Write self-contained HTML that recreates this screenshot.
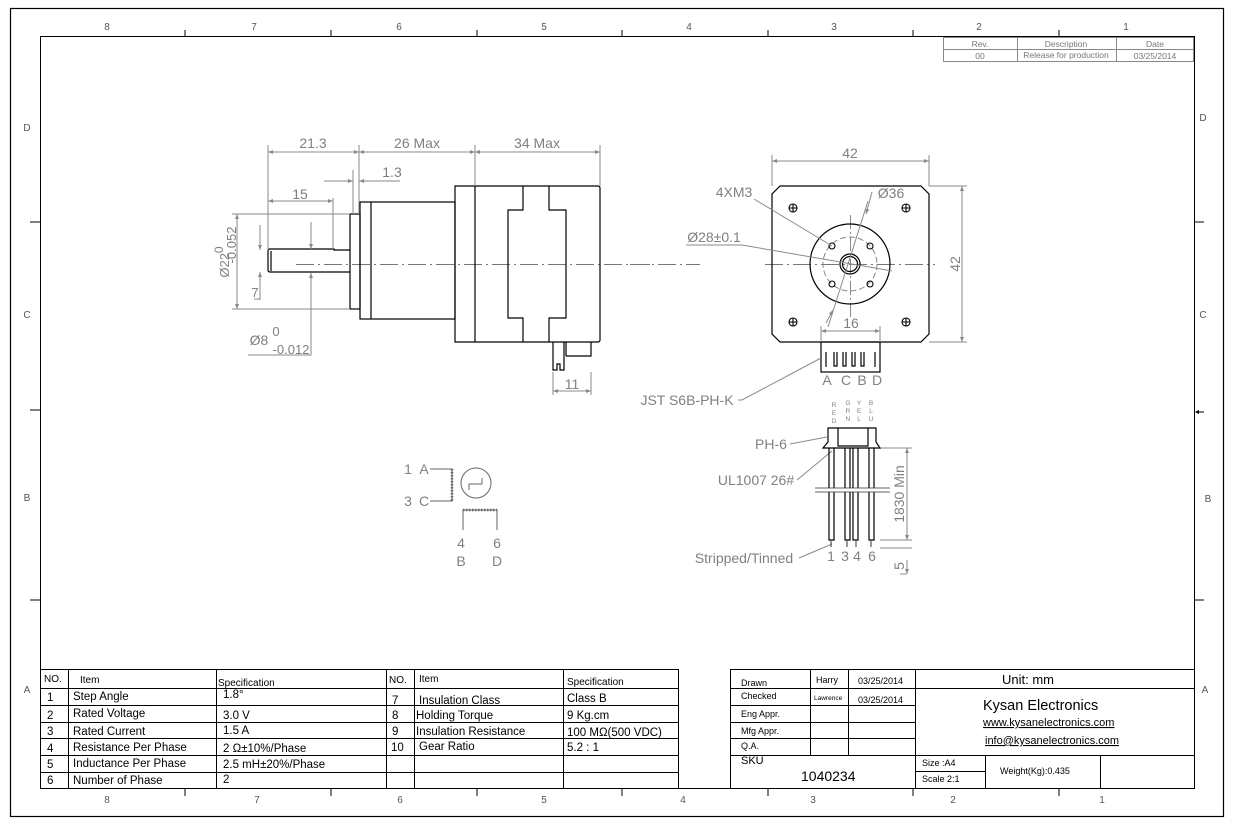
<!DOCTYPE html>
<html><head><meta charset="utf-8"><style>
html,body{margin:0;padding:0;background:#fff;}
svg{display:block;font-family:"Liberation Sans",Arial,sans-serif;}
.g{fill:#808080;}
.dl{stroke:#8a8a8a;stroke-width:1;fill:none;}
.k{stroke:#000;stroke-width:1.2;fill:none;}
.t{stroke:#000;stroke-width:1;fill:none;}
</style></head><body>
<svg width="1234" height="825" viewBox="0 0 1234 825" xmlns="http://www.w3.org/2000/svg">
<defs>
<marker id="a" viewBox="0 0 10 10" refX="10" refY="5" markerWidth="9" markerHeight="5" orient="auto-start-reverse" markerUnits="userSpaceOnUse"><path d="M0,1 L10,5 L0,9z" fill="#8a8a8a"/></marker>
</defs>
<rect x="10.5" y="8.5" width="1213" height="808" fill="none" stroke="#000" stroke-width="1.2"/>
<rect x="40.5" y="36.5" width="1154" height="752" fill="none" stroke="#000" stroke-width="1"/>
<g class="t">
<path d="M185 30v6M331 30v6M477 30v6M622 30v6M768 30v6M913 30v6M1059 30v6"/>
<path d="M185 789v7M331 789v7M477 789v7M622 789v7M768 789v7M913 789v7M1059 789v7"/>
<path d="M30 222h10M30 410h10M30 600h10M1194 222h10M1194 600h10"/>
</g>
<path d="M1198 412h6" stroke="#000"/><path d="M1195 412l4-2v4z" fill="#000"/>
<g font-size="10" fill="#555" text-anchor="middle">
<text x="107" y="30">8</text><text x="254" y="30">7</text><text x="399" y="30">6</text><text x="544" y="30">5</text><text x="689" y="30">4</text><text x="834" y="30">3</text><text x="979" y="30">2</text><text x="1126" y="30">1</text>
<text x="107" y="803">8</text><text x="257" y="803">7</text><text x="400" y="803">6</text><text x="544" y="803">5</text><text x="683" y="803">4</text><text x="813" y="803">3</text><text x="953" y="803">2</text><text x="1102" y="803">1</text>
<text x="27" y="131">D</text><text x="27" y="318">C</text><text x="27" y="501">B</text><text x="27" y="693">A</text>
<text x="1203" y="121">D</text><text x="1203" y="318">C</text><text x="1208" y="502">B</text><text x="1205" y="693">A</text>
</g>
<g stroke="#888" fill="none"><rect x="943.5" y="37.5" width="250" height="24"/><path d="M943 49.5h251M1017.5 37v25M1116.5 37v25"/></g>
<g font-size="8.5" fill="#777" text-anchor="middle"><text x="980" y="47">Rev.</text><text x="1066" y="47">Description</text><text x="1155" y="47">Date</text><text x="980" y="59">00</text><text x="1066" y="58">Release for production</text><text x="1155" y="59">03/25/2014</text></g>

<path d="M296 264.5H650" stroke="#777" stroke-dasharray="18 4 2 4"/>
<g class="k">
<path d="M455 186H598a2 2 0 0 1 2 2V340a2 2 0 0 1-2 2H455z"/>
<path d="M475 186V342"/>
<path d="M523 186v24h-15v108h15v24M549 186v24h17v108h-17v24"/>
<rect x="360" y="202" width="95" height="117"/><path d="M371 202v117"/>
<rect x="350" y="214" width="10" height="95"/>
<path d="M350 250H334v-1H270q-2 0-2 2V270q0 2 2 2H350"/><path d="M271 251v20"/>
<path d="M553 342v28h4v-6h3v6h4v-28M566 356h25v-14M566 342v14"/>
</g>
<g class="dl">
<path d="M268 145V250M359 145V214M475 145V186M600 145V186M353 170V214"/>
<path d="M268 152H359" marker-start="url(#a)" marker-end="url(#a)"/>
<path d="M359 152H475" marker-start="url(#a)" marker-end="url(#a)"/>
<path d="M475 152H600" marker-start="url(#a)" marker-end="url(#a)"/>
<path d="M324 181H353" marker-end="url(#a)"/><path d="M400 181H359" marker-end="url(#a)"/><path d="M359 181V210"/>
<path d="M268 201H333" marker-start="url(#a)" marker-end="url(#a)"/><path d="M333 198V249"/>
<path d="M232 214H350M232 309H350"/>
<path d="M237 214V309" marker-start="url(#a)" marker-end="url(#a)"/>
<path d="M260 225V250" marker-end="url(#a)"/><path d="M260 300V272" marker-end="url(#a)"/><path d="M254 299H260V272"/>
<path d="M311 222V249" marker-end="url(#a)"/><path d="M311 290V273" marker-end="url(#a)"/><path d="M311 273V355H248"/>
<path d="M553 372V395M591 372V395"/><path d="M553 391H591" marker-start="url(#a)" marker-end="url(#a)"/>
</g>
<g class="g" font-size="14" text-anchor="middle">
<text x="313" y="148">21.3</text><text x="417" y="148">26 Max</text><text x="537" y="148">34 Max</text>
<text x="392" y="177">1.3</text><text x="300" y="199">15</text>
<text x="255" y="297" font-size="13">7</text>
<text x="572" y="389">11</text>
<text x="259" y="345">Ø8</text><text x="276" y="336" font-size="13">0</text><text x="291" y="354" font-size="13">-0.012</text>
<text transform="translate(229 262) rotate(-90)" font-size="13">Ø22<tspan dy="-6" font-size="12">0</tspan></text>
<text transform="translate(236 245) rotate(-90)" font-size="13">-0.052</text>
</g>

<path d="M630 264.5H700M765 264.5H935" stroke="#777" stroke-dasharray="18 4 2 4"/>
<path d="M850.5 215V318" stroke="#888" stroke-dasharray="14 3 2 3"/>
<g class="k">
<path d="M780 186H921L929 194V334L921 342H780L772 334V194z"/>
<circle cx="850" cy="264" r="40"/>
<circle cx="850" cy="264" r="10"/><circle cx="850" cy="264" r="7.5"/>
<rect x="821" y="342" width="59" height="30"/>
<path d="M826 352v15M834 352v14h3v-14M843 352v14h3v-14M852 352v14h3v-14M861 352v14h3v-14M875 352v15"/>
</g>
<circle cx="850" cy="264" r="27" fill="none" stroke="#888" stroke-dasharray="6 3"/>
<g stroke="#000" fill="none" stroke-width="1.1">
<circle cx="832" cy="246" r="3"/><circle cx="870" cy="246" r="3"/><circle cx="832" cy="284" r="3"/><circle cx="870" cy="284" r="3"/>
<circle cx="793" cy="208" r="4"/><circle cx="906" cy="208" r="4"/><circle cx="793" cy="322" r="4"/><circle cx="906" cy="322" r="4"/>
<path d="M789 208h8M793 204v8M902 208h8M906 204v8M789 322h8M793 318v8M902 322h8M906 318v8"/>
</g>
<g class="dl">
<path d="M772 155V186M929 155V186M929 186H967M929 342H967"/>
<path d="M772 161H929" marker-start="url(#a)" marker-end="url(#a)"/>
<path d="M962 186V342" marker-start="url(#a)" marker-end="url(#a)"/>
<path d="M821 326V342M880 326V342"/><path d="M821 331H880" marker-start="url(#a)" marker-end="url(#a)"/>
<path d="M754 199L832 246"/><path d="M686 245H742L892 271"/>
<path d="M868 201L828 327"/><path d="M872 192L866 214" marker-end="url(#a)"/><path d="M833 310L826 323" marker-start="url(#a)"/>
<path d="M738 400H742L821 358"/>
<path d="M790 444L827 437M797 480L832 451M799 558L832 544"/>
<path d="M880 448H912M880 540H912M880 548H912"/>
<path d="M907 448V540" marker-start="url(#a)" marker-end="url(#a)"/>
<path d="M907 560V574" marker-end="url(#a)"/><path d="M907 574H900"/>
</g>
<g class="k" stroke-width="1">
<path d="M828 428H876V442L880 448H823L828 442z"/><path d="M838 428V446H868V428"/>
<path d="M829 448V488M834 448V488M845 448V488M850 448V488M853 448V488M858 448V488M869 448V488M874 448V488"/>
<path d="M829 492V540H834V492M845 492V540H850V492M853 492V540H858V492M869 492V540H874V492"/>
<path d="M815 488H890M815 492H890" stroke="#333" stroke-width="0.8"/>
<path d="M831 541v6M847 541v6M856 541v6M871 541v6" stroke="#555"/>
</g>
<g class="g" font-size="14" text-anchor="middle">
<text x="850" y="158">42</text>
<text transform="translate(960 264) rotate(-90)">42</text>
<text x="734" y="197">4XM3</text><text x="891" y="198">Ø36</text><text x="714" y="242">Ø28±0.1</text>
<text x="851" y="328">16</text>
<text x="827" y="385">A</text><text x="846" y="385">C</text><text x="862" y="385">B</text><text x="877" y="385">D</text>
<text x="687" y="405">JST S6B-PH-K</text>
<text x="771" y="449">PH-6</text><text x="756" y="485">UL1007 26#</text><text x="744" y="563">Stripped/Tinned</text>
<text x="831" y="561">1</text><text x="845" y="561">3</text><text x="857" y="561">4</text><text x="872" y="561">6</text>
<text transform="translate(904 494) rotate(-90)">1830 Min</text>
<text transform="translate(904 566) rotate(-90)">5</text>
</g>
<g class="g" font-size="6.5" text-anchor="middle">
<text x="834" y="407">R</text><text x="834" y="415">E</text><text x="834" y="423">D</text>
<text x="848" y="405">G</text><text x="848" y="413">R</text><text x="848" y="421">N</text>
<text x="859" y="405">Y</text><text x="859" y="413">E</text><text x="859" y="421">L</text>
<text x="871" y="405">B</text><text x="871" y="413">L</text><text x="871" y="421">U</text>
</g>

<g stroke="#666" fill="none">
<path d="M430 469H452v32H430"/><path d="M452 469v32" stroke-dasharray="1.5 1.5" stroke-width="2.5"/>
<circle cx="476" cy="483" r="15"/><path d="M469 490v-6h13v-6"/>
<path d="M463 530V510H497V530"/><path d="M463 510H497" stroke-dasharray="1.5 1.5" stroke-width="2.5"/>
</g>
<g class="g" font-size="14" text-anchor="middle">
<text x="408" y="474">1</text><text x="424" y="474">A</text><text x="408" y="506">3</text><text x="424" y="506">C</text>
<text x="461" y="548">4</text><text x="497" y="548">6</text><text x="461" y="566">B</text><text x="497" y="566">D</text>
</g>

<g stroke="#000" fill="none">
<rect x="40.5" y="669.5" width="638" height="119"/>
<path d="M40 688.5h638M40 705.5h638M40 722.5h638M40 738.5h638M40 755.5h638M40 772.5h638"/>
<path d="M68.5 669v120M216.5 669v120M386.5 669v120M414.5 669v120M563.5 669v120"/>
</g>
<g font-size="11.5" fill="#000">
<text x="44" y="682" font-size="10">NO.</text><text x="80" y="683" font-size="10">Item</text><text x="218" y="686" font-size="10">Specification</text>
<text x="389" y="683" font-size="10">NO.</text><text x="419" y="682" font-size="10">Item</text><text x="567" y="685" font-size="10">Specification</text>
<text x="47" y="701">1</text><text x="73" y="700">Step Angle</text><text x="223" y="698">1.8°</text>
<text x="47" y="719">2</text><text x="73" y="717">Rated Voltage</text><text x="223" y="719">3.0 V</text>
<text x="47" y="735">3</text><text x="73" y="735">Rated Current</text><text x="223" y="734">1.5 A</text>
<text x="47" y="752">4</text><text x="73" y="751">Resistance Per Phase</text><text x="223" y="752">2 Ω±10%/Phase</text>
<text x="47" y="768">5</text><text x="73" y="767">Inductance Per Phase</text><text x="223" y="768">2.5 mH±20%/Phase</text>
<text x="47" y="784">6</text><text x="73" y="784">Number of Phase</text><text x="223" y="783">2</text>
<text x="392" y="704">7</text><text x="419" y="704">Insulation Class</text><text x="567" y="702">Class B</text>
<text x="392" y="719">8</text><text x="416" y="719">Holding Torque</text><text x="567" y="719">9 Kg.cm</text>
<text x="392" y="735">9</text><text x="416" y="735">Insulation Resistance</text><text x="567" y="736">100 MΩ(500 VDC)</text>
<text x="391" y="751">10</text><text x="419" y="750">Gear Ratio</text><text x="567" y="751">5.2 : 1</text>
</g>

<g stroke="#000" fill="none">
<rect x="730.5" y="669.5" width="464" height="119"/>
<path d="M730 688.5h185M915 688.5h279M730 705.5h185M730 722.5h185M730 738.5h185M730 755.5h464"/>
<path d="M810.5 669v86M848.5 669v86M915.5 669v120M985.5 755v34M1100.5 755v34M915 771.5h70"/>
</g>
<g font-size="9" fill="#000">
<text x="741" y="686">Drawn</text><text x="741" y="699">Checked</text><text x="741" y="717">Eng Appr.</text><text x="741" y="734">Mfg Appr.</text><text x="741" y="749">Q.A.</text>
<text x="816" y="683">Harry</text><text x="814" y="700" font-size="6.5">Lawrence</text>
<text x="858" y="684">03/25/2014</text><text x="858" y="703">03/25/2014</text>
<text x="741" y="764" font-size="11">SKU</text>
<text x="801" y="781" font-size="14">1040234</text>
<text x="922" y="766">Size :A4</text><text x="922" y="782">Scale 2:1</text>
<text x="1000" y="774">Weight(Kg):0.435</text>
<text x="1002" y="684" font-size="13">Unit: mm</text>
<text x="983" y="710" font-size="14.5">Kysan Electronics</text>
<text x="983" y="726" font-size="11" text-decoration="underline">www.kysanelectronics.com</text>
<text x="985" y="744" font-size="11" text-decoration="underline">info@kysanelectronics.com</text>
</g>
</svg>
</body></html>
